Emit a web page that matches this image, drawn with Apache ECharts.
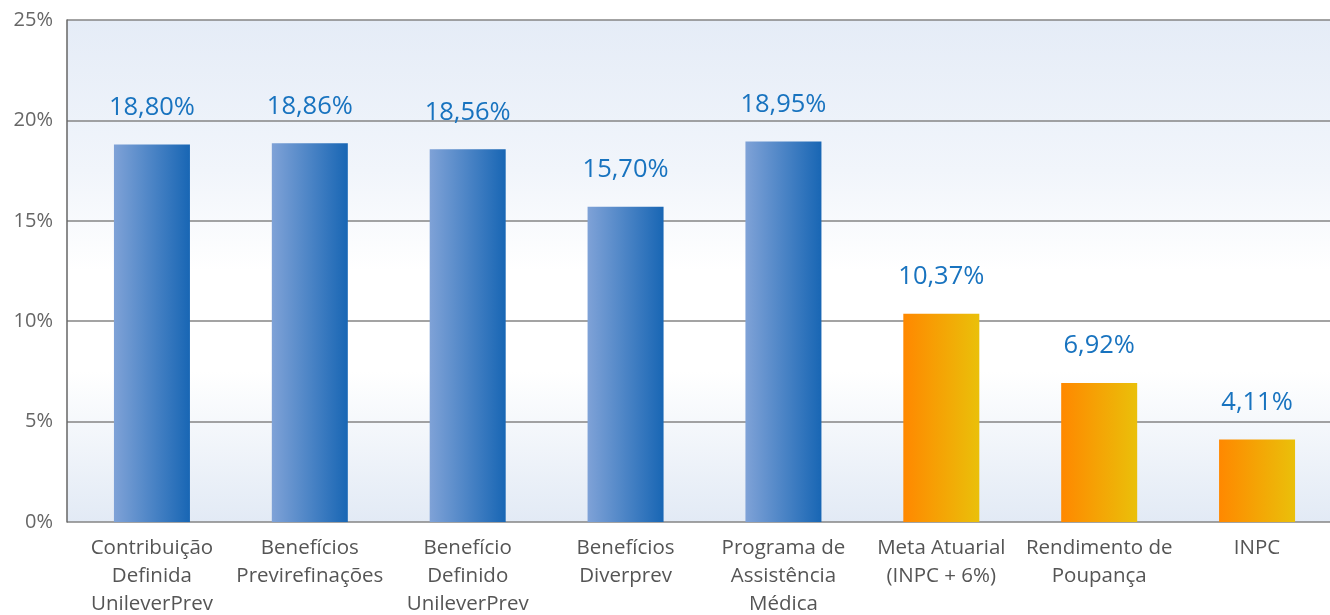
<!DOCTYPE html>
<html>
<head>
<meta charset="utf-8">
<script src="https://cdn.jsdelivr.net/npm/echarts@6/dist/echarts.min.js"></script>
<style>
  html, body { margin: 0; padding: 0; background: #fff; }
  #chart { width: 1330px; height: 615px; }
</style>
</head>
<body>
<div id="chart"></div>
<script>
// categorias e valores (%)
const categories = [
  'Contribuição\nDefinida\nUnileverPrev',
  'Benefícios\nPrevirefinações',
  'Benefício\nDefinido\nUnileverPrev',
  'Benefícios\nDiverprev',
  'Programa de\nAssistência\nMédica',
  'Meta Atuarial\n(INPC + 6%)',
  'Rendimento de\nPoupança',
  'INPC'
];
const values = [18.80, 18.86, 18.56, 15.70, 18.95, 10.37, 6.92, 4.11];
const isPlan = [true, true, true, true, true, false, false, false];
const yTicks = { min: 0, max: 25, interval: 5 };

const blueGrad = {
  type: 'linear', x: 0, y: 0, x2: 1, y2: 0,
  colorStops: [{ offset: 0, color: '#7fa2d7' }, { offset: 1, color: '#1866b4' }]
};
const orangeGrad = {
  type: 'linear', x: 0, y: 0, x2: 1, y2: 0,
  colorStops: [{ offset: 0, color: '#ff8800' }, { offset: 1, color: '#eac00a' }]
};

const myChart = echarts.init(document.getElementById('chart'));
const font = '"Open Sans", sans-serif';

const option = {
  animation: false,
  grid: [
    {
      // fundo + eixo y
      left: 67, right: 0, top: 20, bottom: 93,
      outerBoundsMode: 'none', containLabel: false,
      show: true, borderWidth: 0,
      backgroundColor: {
        type: 'linear', x: 0, y: 0, x2: 0, y2: 1,
        colorStops: [
          { offset: 0, color: '#e5ecf7' },
          { offset: 0.3, color: '#f1f5fb' },
          { offset: 0.5, color: '#ffffff' },
          { offset: 0.7, color: '#ffffff' },
          { offset: 1, color: '#e2eaf5' }
        ]
      }
    },
    { left: 73, width: 1263, top: 20, bottom: 93, outerBoundsMode: 'none', containLabel: false }
  ],
  xAxis: [
    { gridIndex: 0, type: 'value', show: false },
    {
      gridIndex: 1, type: 'category', data: categories,
      axisLine: { show: false }, axisTick: { show: false },
      axisLabel: {
        interval: 0, margin: 12, color: '#555', fontSize: 20.5,
        lineHeight: 28, fontFamily: font, verticalAlign: 'top'
      }
    }
  ],
  yAxis: [
    {
      gridIndex: 0, type: 'value', min: yTicks.min, max: yTicks.max, interval: yTicks.interval,
      axisLine: { show: true, lineStyle: { color: '#666', width: 1.5 } },
      axisTick: { show: false },
      splitLine: { show: true, lineStyle: { color: '#858585', width: 1.5 } },
      axisLabel: { formatter: '{value}%', color: '#666', fontSize: 20, margin: 14, fontFamily: font }
    },
    { gridIndex: 1, type: 'value', min: yTicks.min, max: yTicks.max, show: false }
  ],
  series: [
    {
      type: 'bar', xAxisIndex: 1, yAxisIndex: 1,
      barWidth: 76,
      data: values.map((v, i) => ({
        value: v,
        itemStyle: { color: isPlan[i] ? blueGrad : orangeGrad }
      })),
      label: {
        show: true, position: 'top', distance: 24,
        color: '#1873bf', fontSize: 25.5, fontFamily: font,
        formatter: (p) => p.value.toFixed(2).replace('.', ',') + '%'
      }
    }
  ]
};

option && myChart.setOption(option);
</script>
</body>
</html>
